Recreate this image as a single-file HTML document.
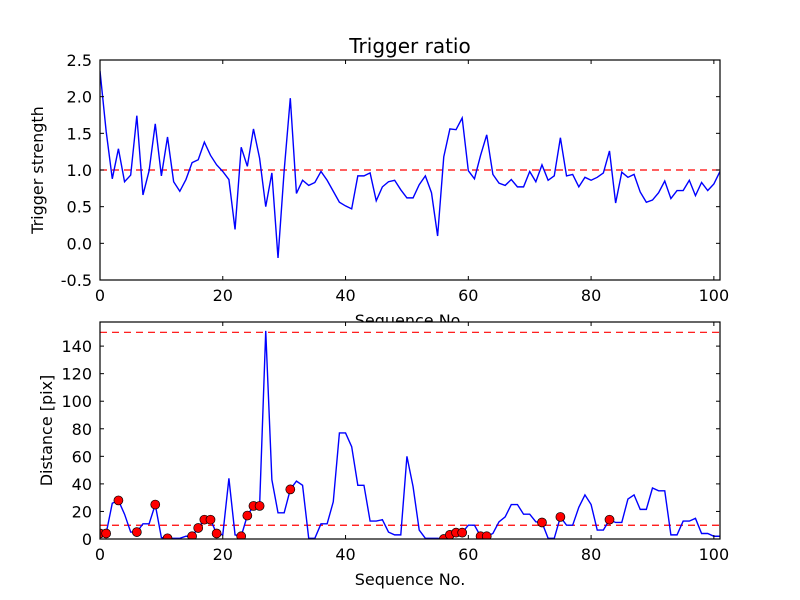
<!DOCTYPE html>
<html><head><meta charset="utf-8"><style>
body{margin:0;background:#fff;}
svg{display:block;}
text{font-family:"DejaVu Sans","Liberation Sans",sans-serif;fill:#000;}
</style></head><body>
<svg id="chart" width="800" height="600" xmlns="http://www.w3.org/2000/svg">
<rect x="0" y="0" width="800" height="600" fill="#ffffff"/>
</svg>
<script>
const seqTop = [2.35,1.53,0.88,1.29,0.84,0.93,1.74,0.66,0.99,1.63,0.92,1.45,0.84,0.71,0.87,1.10,1.14,1.38,1.2,1.07,0.98,0.87,0.19,1.31,1.05,1.56,1.16,0.5,0.96,-0.2,0.99,1.98,0.68,0.86,0.79,0.83,0.98,0.86,0.71,0.56,0.51,0.47,0.92,0.92,0.96,0.58,0.77,0.84,0.86,0.73,0.62,0.62,0.8,0.92,0.69,0.1,1.18,1.56,1.55,1.71,0.99,0.88,1.2,1.48,0.94,0.82,0.79,0.87,0.77,0.77,0.98,0.84,1.07,0.86,0.92,1.44,0.92,0.94,0.77,0.9,0.86,0.9,0.96,1.26,0.55,0.97,0.9,0.94,0.7,0.56,0.59,0.69,0.85,0.61,0.72,0.72,0.86,0.65,0.83,0.72,0.81,0.98];
const distance = [4,4,26,28,18,5,5,11,11,25,1,0.5,0.5,0.5,2,2,8,14,14,4,3,44,3,2,17,24,24,151,43,19,19,36,42,39,0.5,0.5,11,11,27,77,77,67,39,39,13,13,14,5,3,3,60,38,6.5,0.5,0.5,0.5,0,3,4.6,4.6,10,10,2,2,4,12.5,16,25,25,18,18,12.5,12,0.5,0.5,16,10,10,23,32,25,6.5,6.5,14,12,12,29,32,21.5,21.5,37,35,35,3,3,13,13,15,4,4,2,2];
const markerIdx = [0,1,3,6,9,11,15,16,17,18,19,23,24,25,26,31,56,57,58,59,62,63,72,75,83];
const topTicks = [-0.5,0.0,0.5,1.0,1.5,2.0,2.5];
const botTicks = [0,20,40,60,80,100,120,140];
const xTicks = [0,20,40,60,80,100];
const topRef = [1.0];
const botRef = [10,150];

const NS="http://www.w3.org/2000/svg";
const svg=document.getElementById('chart');
function mk(tag,attrs,parent){const e=document.createElementNS(NS,tag);for(const k in attrs)e.setAttribute(k,attrs[k]);(parent||svg).appendChild(e);return e;}

function panel(cfg){
  const L=100,R=720,T=cfg.top,B=cfg.bottom;
  const xs=v=>L+(v-0)/(101-0)*(R-L);
  const ys=v=>B-(v-cfg.ymin)/(cfg.ymax-cfg.ymin)*(B-T);
  const g=mk('g',{});
  
  
  const bg=mk('rect',{x:L,y:T,width:R-L,height:B-T,fill:'#fff'},g);
  
  
  const clipId=cfg.name+'-clip';
  const cp=mk('clipPath',{id:clipId},g);mk('rect',{x:L,y:T,width:R-L,height:B-T},cp);
  const inner=mk('g',{'clip-path':'url(#'+clipId+')'},g);
  cfg.refs.forEach(r=>{
    const l=mk('line',{x1:L,x2:R,y1:ys(r),y2:ys(r),stroke:'#ff0000','stroke-width':1.2,'stroke-dasharray':'7,5'},inner);
    
    
  });
  const pts=cfg.data.map((v,i)=>xs(i).toFixed(2)+','+ys(v).toFixed(2)).join(' ');
  const pl=mk('polyline',{points:pts,fill:'none',stroke:'#0000ff','stroke-width':1.4},inner);
  
  
  (cfg.markers||[]).forEach(i=>{
    const c=mk('circle',{cx:xs(i),cy:ys(cfg.data[i]),r:4.5,fill:'#ff0000',stroke:'#000','stroke-width':0.7},inner);
    
    
  });
  cfg.yticks.forEach(t=>{
    const y=ys(t);
    mk('line',{x1:L,x2:L+4,y1:y,y2:y,stroke:'#000'},g);
    mk('line',{x1:R,x2:R-4,y1:y,y2:y,stroke:'#000'},g);
    const tx=mk('text',{x:L-8,y:y+6,'text-anchor':'end','font-size':16},g);
    tx.textContent=cfg.fmt(t);
    
    
  });
  xTicks.forEach(t=>{
    const x=xs(t);
    mk('line',{x1:x,x2:x,y1:B,y2:B-4,stroke:'#000'},g);
    mk('line',{x1:x,x2:x,y1:T,y2:T+4,stroke:'#000'},g);
    const tx=mk('text',{x:x,y:B+21,'text-anchor':'middle','font-size':16},g);
    tx.textContent=String(t);
    
    
  });
  const fr=mk('rect',{x:L,y:T,width:R-L,height:B-T,fill:'none',stroke:'#000','stroke-width':1.2},g);
  
  
  const xl=mk('text',{x:(L+R)/2,y:B+46,'text-anchor':'middle','font-size':16},g);
  xl.textContent='Sequence No.';
  
  
  const cy=(T+B)/2;
  const yl=mk('text',{x:cfg.ylx,y:cy,'text-anchor':'middle','font-size':16,transform:'rotate(-90 '+cfg.ylx+' '+cy+')'},g);
  yl.textContent=cfg.ylabel;
  
  
}
panel({name:'trigger-ratio-panel',top:60,bottom:280,ymin:-0.5,ymax:2.5,data:seqTop,refs:topRef,yticks:topTicks,fmt:t=>t.toFixed(1),ylabel:'Trigger strength',ylx:43});
panel({name:'distance-panel',top:322,bottom:539,ymin:0,ymax:157.5,data:distance,refs:botRef,yticks:botTicks,markers:markerIdx,fmt:t=>String(t),ylabel:'Distance [pix]',ylx:52});
const title=mk('text',{x:410,y:53,'text-anchor':'middle','font-size':20});
title.textContent='Trigger ratio';


</script>
</body></html>
